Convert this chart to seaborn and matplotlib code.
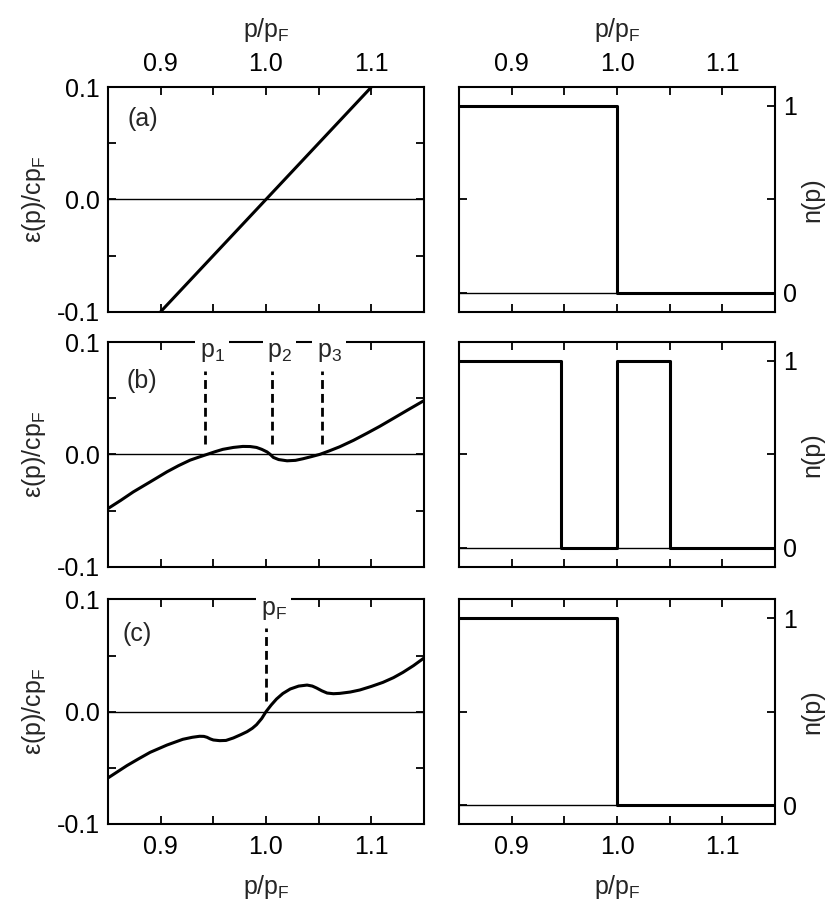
import matplotlib
matplotlib.use("Agg")
import matplotlib.pyplot as plt
from matplotlib.ticker import MultipleLocator, FixedLocator, FormatStrFormatter
import seaborn as sns

# ---- data ----
# (a) linear dispersion
p_a = [0.90, 1.10]
eps_a = [-0.10, 0.10]

# (b) dispersion with three Fermi-surface crossings
p_b = [0.850, 0.862, 0.874, 0.890, 0.906, 0.917, 0.928, 0.936, 0.944, 0.952,
       0.959, 0.969, 0.978, 0.985, 0.991, 0.996, 1.001, 1.004, 1.007, 1.012,
       1.020, 1.028, 1.035, 1.043, 1.051, 1.060, 1.070, 1.083, 1.096, 1.108,
       1.121, 1.135, 1.150]
eps_b = [-0.0482, -0.0410, -0.0334, -0.0245, -0.0155, -0.0100, -0.0051, -0.0025, 0.0000, 0.0025,
         0.0045, 0.0062, 0.0071, 0.0070, 0.0062, 0.0045, 0.0022, 0.0000, -0.0027, -0.0046,
         -0.0057, -0.0053, -0.0039, -0.0020, 0.0000, 0.0031, 0.0068, 0.0125, 0.0189, 0.0250,
         0.0321, 0.0398, 0.0479]
p_marks_b = [0.942, 1.006, 1.053]
marks_b = [r"p$_1$", r"p$_2$", r"p$_3$"]

# (c) dispersion with a single crossing at p_F
p_c = [0.850, 0.859, 0.868, 0.879, 0.890, 0.906, 0.921, 0.930, 0.937, 0.941,
       0.944, 0.947, 0.950, 0.956, 0.962, 0.969, 0.976, 0.982, 0.987, 0.991,
       0.996, 1.000, 1.005, 1.010, 1.016, 1.023, 1.031, 1.039, 1.044, 1.048,
       1.053, 1.058, 1.064, 1.070, 1.080, 1.089, 1.100, 1.111, 1.121, 1.130,
       1.140, 1.150]
eps_c = [-0.0590, -0.0535, -0.0480, -0.0420, -0.0362, -0.0297, -0.0246, -0.0228, -0.0219, -0.0220,
         -0.0228, -0.0242, -0.0252, -0.0258, -0.0256, -0.0234, -0.0205, -0.0178, -0.0148, -0.0116,
         -0.0060, 0.0000, 0.0060, 0.0113, 0.0162, 0.0202, 0.0228, 0.0237, 0.0228, 0.0211,
         0.0186, 0.0166, 0.0160, 0.0163, 0.0175, 0.0193, 0.0225, 0.0261, 0.0303, 0.0350,
         0.0410, 0.0478]
p_marks_c = [1.000]
marks_c = [r"p$_F$"]

# occupation numbers n(p), step edges
n_a_p = [0.85, 1.00, 1.15]
n_a = [1, 0, 0]
n_b_p = [0.85, 0.947, 1.00, 1.05, 1.15]
n_b = [1, 0, 1, 0, 0]
n_c_p = [0.85, 1.00, 1.15]
n_c = [1, 0, 0]

panel_tags = ["(a)", "(b)", "(c)"]
xlabel = r"p/p$_F$"
ylabel_left = r"ε(p)/cp$_F$"
ylabel_right = "n(p)"

# ---- style ----
sns.set_theme(style="ticks")
plt.rcParams["font.family"] = ["Liberation Sans", "DejaVu Sans"]
plt.rcParams["mathtext.fontset"] = "custom"
plt.rcParams["mathtext.rm"] = "Liberation Sans"
plt.rcParams["mathtext.it"] = "Liberation Sans:italic"
plt.rcParams["mathtext.default"] = "regular"
plt.rcParams["axes.unicode_minus"] = False
FS = 18

fig = plt.figure(figsize=(8.3, 9.13), dpi=100)
W, H = 316 / 830, 0.246
left_x, right_x = 108 / 830, 459 / 830
bottoms = [0.6586, 0.3793, 0.0975]

curves = [(p_a, eps_a), (p_b, eps_b), (p_c, eps_c)]
steps = [(n_a_p, n_a), (n_b_p, n_b), (n_c_p, n_c)]
marks = [([], []), (p_marks_b, marks_b), (p_marks_c, marks_c)]
tag_pos = [(0.063, 0.86), (0.060, 0.825), (0.047, 0.845)]


def style_axis(ax, row):
    for sp in ax.spines.values():
        sp.set_linewidth(1.5)
        sp.set_color("black")
    ax.set_xlim(0.85, 1.15)
    ax.xaxis.set_major_locator(MultipleLocator(0.1))
    ax.xaxis.set_minor_locator(FixedLocator([0.95, 1.05]))
    ax.xaxis.set_major_formatter(FormatStrFormatter("%.1f"))
    ax.tick_params(which="both", direction="in", top=True, right=True, left=True, bottom=True,
                   length=6, width=1.3, color="black", labelsize=FS, labelcolor="black", pad=6)
    ax.tick_params(axis="x", labeltop=(row == 0), labelbottom=(row == 2), pad=8)
    if row == 0:
        ax.xaxis.set_label_position("top")
        ax.set_xlabel(xlabel, fontsize=FS, labelpad=11)
    elif row == 2:
        ax.set_xlabel(xlabel, fontsize=FS, labelpad=10)
    else:
        ax.set_xlabel("")
    ax.grid(False)
    ax.set_facecolor("white")


for row in range(3):
    # left column: dispersion
    ax = fig.add_axes([left_x, bottoms[row], W, H])
    ax.axhline(0, color="black", lw=1.0, zorder=1)
    px, ey = curves[row]
    sns.lineplot(x=px, y=ey, ax=ax, color="black", lw=2.2, zorder=3)
    for xm, lab in zip(*marks[row]):
        ax.plot([xm, xm], [0.0095, 0.0745], color="black", lw=2.0,
                linestyle=(0, (3.2, 1.8)), zorder=3)
        ax.text(xm - 0.005, 0.1015, lab, ha="left", va="top", fontsize=FS, zorder=5,
                clip_on=False, bbox=dict(fc="white", ec="none", pad=3))
    ax.set_ylim(-0.1, 0.1)
    ax.yaxis.set_major_locator(MultipleLocator(0.1))
    ax.yaxis.set_minor_locator(FixedLocator([-0.05, 0.05]))
    ax.yaxis.set_major_formatter(FormatStrFormatter("%.1f"))
    style_axis(ax, row)
    ax.set_ylabel(ylabel_left, fontsize=FS, labelpad=6)
    ax.text(tag_pos[row][0], tag_pos[row][1], panel_tags[row], transform=ax.transAxes,
            ha="left", va="center", fontsize=FS)

    # right column: occupation numbers
    ax2 = fig.add_axes([right_x, bottoms[row], W, H])
    ax2.axhline(0, color="black", lw=1.0, zorder=1)
    sp, sv = steps[row]
    sns.lineplot(x=sp, y=sv, ax=ax2, color="black", lw=2.2, drawstyle="steps-post", zorder=3)
    ax2.set_ylim(-0.1, 1.1)
    ax2.yaxis.set_major_locator(FixedLocator([0, 1]))
    ax2.yaxis.set_minor_locator(FixedLocator([0.5]))
    ax2.yaxis.set_major_formatter(FormatStrFormatter("%d"))
    style_axis(ax2, row)
    ax2.tick_params(axis="y", labelleft=False, labelright=True)
    ax2.yaxis.set_label_position("right")
    ax2.set_ylabel(ylabel_right, fontsize=FS, labelpad=2)

fig.savefig("out.png", dpi=100)
plt.close(fig)
